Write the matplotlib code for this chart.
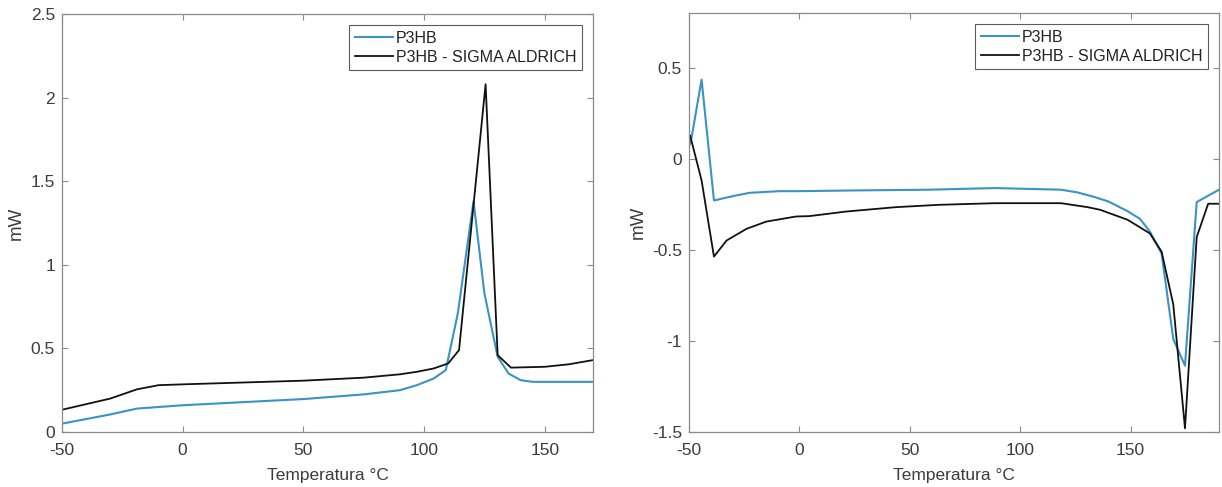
import matplotlib
matplotlib.use("Agg")
import matplotlib.pyplot as plt

plt.rcParams["font.family"] = ["Liberation Sans", "DejaVu Sans"]
plt.rcParams["axes.unicode_minus"] = False

# Left panel: heat flow vs temperature
left_t_p3hb = [-50, -30, -19, 0, 50, 75, 90, 97, 104, 109, 114, 120.5, 125, 130.5, 135, 140, 145, 170]
left_p3hb = [0.05, 0.105, 0.14, 0.16, 0.197, 0.225, 0.25, 0.28, 0.32, 0.37, 0.71, 1.38, 0.83, 0.45, 0.35, 0.31, 0.30, 0.30]

left_t_sigma = [-50, -30, -19, -10, 0, 50, 75, 90, 97, 104, 110, 114.5, 125.5, 130.5, 136, 150, 160, 170]
left_sigma = [0.133, 0.2, 0.255, 0.28, 0.285, 0.307, 0.325, 0.345, 0.36, 0.38, 0.41, 0.49, 2.08, 0.46, 0.385, 0.39, 0.405, 0.43]

# Right panel: heat flow vs temperature
right_t_p3hb = [-50, -48.8, -44.3, -38.7, -30, -22.5, -9, 0, 25, 58.5, 88.6, 118.5, 126, 133.6, 140, 148.6, 154.2, 158.7, 164, 169.3, 174.6, 179.9, 190]
right_p3hb = [0.064, 0.119, 0.434, -0.229, -0.205, -0.187, -0.178, -0.178, -0.174, -0.17, -0.161, -0.17, -0.185, -0.21, -0.235, -0.288, -0.33, -0.40, -0.52, -0.99, -1.136, -0.238, -0.17]

right_t_sigma = [-50, -49.5, -44.3, -38.7, -33, -24, -15, -1.5, 4.5, 21, 43.5, 63, 88.6, 118.5, 130.6, 136.1, 148.6, 158.7, 164, 169.3, 174.6, 179.9, 185.1, 190]
right_sigma = [0.13, 0.128, -0.119, -0.537, -0.449, -0.385, -0.345, -0.317, -0.315, -0.29, -0.266, -0.253, -0.244, -0.244, -0.266, -0.28, -0.335, -0.41, -0.51, -0.80, -1.48, -0.43, -0.247, -0.247]

series_labels = ["P3HB", "P3HB - SIGMA ALDRICH"]
x_label = "Temperatura °C"
y_label = "mW"

BLUE = "#3a93c3"
BLACK = "#111111"
SPINE = "#8a8a8a"
TEXT = "#3c3c3c"

W, H = 1222, 487
fig = plt.figure(figsize=(W / 100, H / 100), dpi=100)


def box(x0, y0, x1, y1):
    return [x0 / W, 1 - y1 / H, (x1 - x0) / W, (y1 - y0) / H]


ax1 = fig.add_axes(box(62, 14, 593, 432))
ax2 = fig.add_axes(box(689, 13, 1219, 432))


def style(ax):
    for s in ax.spines.values():
        s.set_color(SPINE)
        s.set_linewidth(0.9)
    ax.tick_params(direction="in", length=4, width=0.8, color=SPINE,
                   top=True, right=True, labelsize=12.5, labelcolor=TEXT)
    ax.tick_params(axis="x", pad=8)
    ax.tick_params(axis="y", pad=5)
    ax.set_xlabel(x_label, fontsize=12.5, color=TEXT, labelpad=7)
    ax.set_ylabel(y_label, fontsize=13.5, color=TEXT, labelpad=4)
    leg = ax.legend(loc="upper right", fontsize=11.5, frameon=True, fancybox=False,
                    edgecolor="#333333", handlelength=2.4, handletextpad=0.15,
                    borderpad=0.35, labelspacing=0.25, borderaxespad=0.7)
    leg.get_frame().set_linewidth(0.8)
    for t in leg.get_texts():
        t.set_color("#222222")


def fmt(v, pos):
    return f"{v:g}"


ax1.plot(left_t_p3hb, left_p3hb, color=BLUE, lw=1.5, label=series_labels[0])
ax1.plot(left_t_sigma, left_sigma, color=BLACK, lw=1.3, label=series_labels[1])
ax1.set_xlim(-50, 170)
ax1.set_ylim(0, 2.5)
ax1.set_xticks([-50, 0, 50, 100, 150])
ax1.set_yticks([0, 0.5, 1, 1.5, 2, 2.5])
ax1.yaxis.set_major_formatter(matplotlib.ticker.FuncFormatter(fmt))
style(ax1)

ax2.plot(right_t_p3hb, right_p3hb, color=BLUE, lw=1.5, label=series_labels[0])
ax2.plot(right_t_sigma, right_sigma, color=BLACK, lw=1.3, label=series_labels[1])
ax2.set_xlim(-50, 190)
ax2.set_ylim(-1.5, 0.8)
ax2.set_xticks([-50, 0, 50, 100, 150])
ax2.set_yticks([-1.5, -1, -0.5, 0, 0.5])
ax2.yaxis.set_major_formatter(matplotlib.ticker.FuncFormatter(fmt))
style(ax2)

fig.savefig("out.png", dpi=100)
